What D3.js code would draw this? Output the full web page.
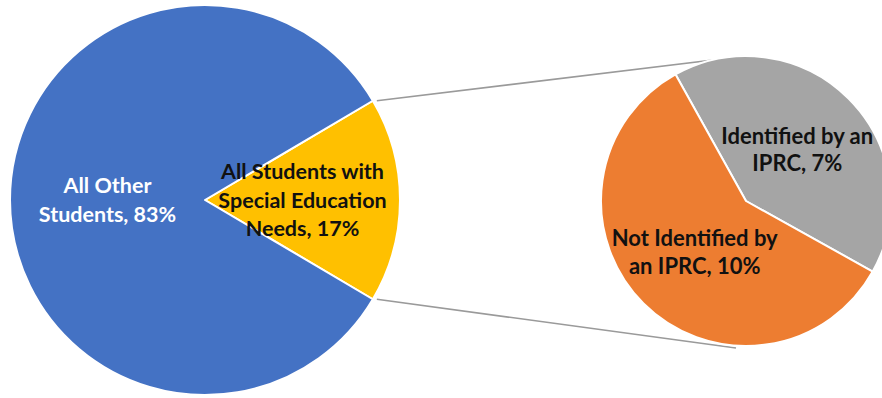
<!DOCTYPE html>
<html>
<head>
<meta charset="utf-8">
<script src="https://cdn.jsdelivr.net/npm/d3@7"></script>
<style>
  html, body { margin: 0; padding: 0; background: #ffffff; }
  svg { display: block; }
  text { font-family: Lato, "Open Sans", sans-serif; font-weight: 700; }
</style>
</head>
<body>
<svg id="chart" width="882" height="398"></svg>
<script>
// Main pie: share of all students
const mainLabels = ["All Students with|Special Education|Needs, 17%", "All Other|Students, 83%"];
const mainValues = [17, 83];
const mainColors = ["#FFC000", "#4472C4"];
const mainTextColors = ["#111111", "#ffffff"];

// Secondary pie: breakdown of students with special education needs
const subLabels = ["Identified by an|IPRC, 7%", "Not Identified by|an IPRC, 10%"];
const subValues = [7, 10];
const subColors = ["#A5A5A5", "#ED7D31"];
const subTextColors = ["#111111", "#111111"];

const svg = d3.select("#chart");

const main = { cx: 205, cy: 200, r: 195 };
const sub = { cx: 746, cy: 201, r: 145 };

const toRad = d => d * Math.PI / 180;

// Main pie: the highlighted slice is centred on 3 o'clock
const mainSpan = 360 * mainValues[0] / d3.sum(mainValues);
const mainStart = 90 - mainSpan / 2;
const mainPie = d3.pie().sort(null).value(d => d)
  .startAngle(toRad(mainStart)).endAngle(toRad(mainStart + 360));
const mainArcs = mainPie(mainValues);

// Secondary pie: first slice centred at 45 degrees
const subSpan = 360 * subValues[0] / d3.sum(subValues);
const subStart = 45 - subSpan / 2;
const subPie = d3.pie().sort(null).value(d => d)
  .startAngle(toRad(subStart)).endAngle(toRad(subStart + 360));
const subArcs = subPie(subValues);

const mainArc = d3.arc().innerRadius(0).outerRadius(main.r);
const subArc = d3.arc().innerRadius(0).outerRadius(sub.r);

// Connector lines from the highlighted slice's outer corners to the top/bottom of the secondary pie
const hl = mainArcs[0];
const corner = a => [main.cx + main.r * Math.sin(a), main.cy - main.r * Math.cos(a)];
const p1 = corner(hl.startAngle), p2 = corner(hl.endAngle);
const connectors = [
  [[p1[0] + 4, p1[1]], [sub.cx, sub.cy - sub.r]],
  [[p2[0] + 4, p2[1]], [sub.cx - 10, sub.cy + sub.r + 2]]
];
svg.append("g").selectAll("line").data(connectors).join("line")
  .attr("x1", d => d[0][0]).attr("y1", d => d[0][1])
  .attr("x2", d => d[1][0]).attr("y2", d => d[1][1])
  .attr("stroke", "#9a9a9a").attr("stroke-width", 1.6);

function drawPie(center, arcs, arcGen, colors, labels, textColors, fontSize, lineGap) {
  const g = svg.append("g").attr("transform", `translate(${center.cx},${center.cy})`);
  g.selectAll("path").data(arcs).join("path")
    .attr("d", arcGen)
    .attr("fill", (d, i) => colors[i])
    .attr("stroke", "#ffffff")
    .attr("stroke-width", 2)
    .attr("stroke-linejoin", "round");
  const lab = g.selectAll("text").data(arcs).join("text")
    .attr("text-anchor", "middle")
    .attr("fill", (d, i) => textColors[i])
    .attr("font-size", fontSize)
    .attr("transform", d => `translate(${arcGen.centroid(d)})`);
  lab.each(function(d, i) {
    const lines = labels[i].split("|");
    const t = d3.select(this);
    const offset = -(lines.length - 1) / 2 * lineGap;
    lines.forEach((ln, k) => {
      t.append("tspan").attr("x", 0)
        .attr("y", offset + k * lineGap)
        .attr("dy", "0.35em")
        .text(ln);
    });
  });
}

drawPie(main, mainArcs, mainArc, mainColors, mainLabels, mainTextColors, 21.5, 28.5);
drawPie(sub, subArcs, subArc, subColors, subLabels, subTextColors, 22, 27.5);
</script>
</body>
</html>
